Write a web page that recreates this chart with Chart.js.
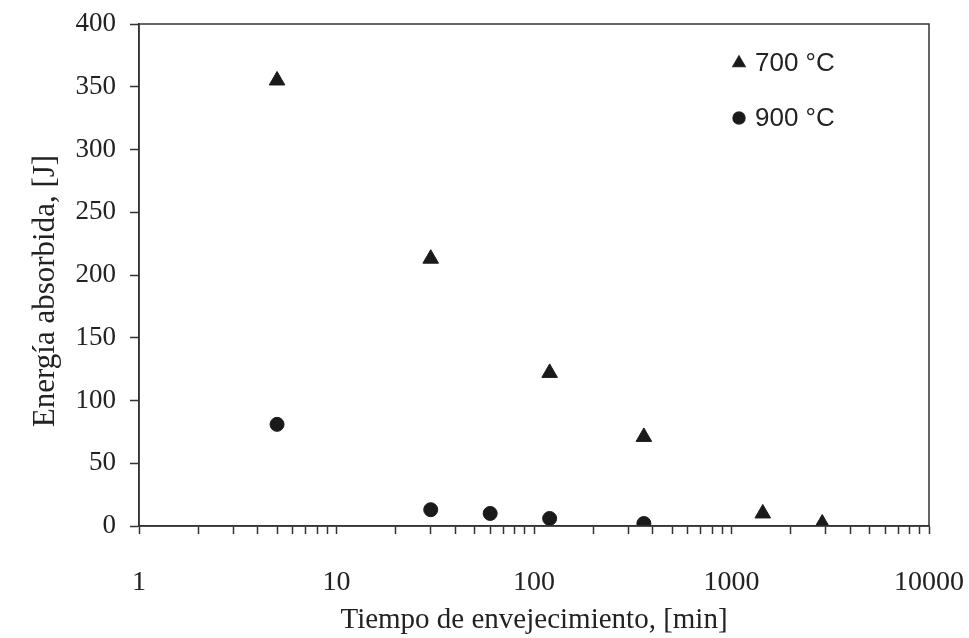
<!DOCTYPE html>
<html lang="es">
<head>
<meta charset="UTF-8">
<title>Energía absorbida vs tiempo de envejecimiento</title>
<script src="https://cdn.jsdelivr.net/npm/chart.js"></script>
<style>
    html, body { margin: 0; padding: 0; background: #fff; }
    #wrap { width: 969px; height: 638px; }
</style>
</head>
<body>
<div id="wrap"><canvas id="chart" width="969" height="638"></canvas></div>
<script>
    // Tiempo de envejecimiento [min] y energía absorbida [J]
    const time700 = [5, 30, 120, 360, 1440, 2880];
    const energy700 = [355, 213, 122, 71, 10, 2];
    const time900 = [5, 30, 60, 120, 360];
    const energy900 = [81, 13, 10, 6, 2];

    const xMajorTicks = [1, 10, 100, 1000, 10000];
    const yTicks = [0, 50, 100, 150, 200, 250, 300, 350, 400];
    const seriesLabels = ['700 °C', '900 °C'];

    const ink = '#1a1a1a';
    const axisColor = '#333';
    const serif = '"Liberation Serif", "Times New Roman", serif';
    const sans = '"Liberation Sans", Arial, sans-serif';

    function toPoints(xs, ys) {
        return xs.map((x, i) => ({ x: x, y: ys[i] }));
    }

    // all log ticks (1..9 per decade) so minor tick marks show up
    const xAllTicks = [];
    for (let d = 0; d < xMajorTicks.length - 1; d++) {
        for (let k = 1; k < 10; k++) xAllTicks.push(k * xMajorTicks[d]);
    }
    xAllTicks.push(xMajorTicks[xMajorTicks.length - 1]);

    // keep the plot box fixed: no extra room for overhanging tick labels
    function noOverhang(scale) {
        scale.paddingLeft = 0;
        scale.paddingRight = 0;
        scale.paddingTop = 0;
        scale.paddingBottom = 0;
    }

    // frame, axis titles and legend
    const decorations = {
        id: 'decorations',
        afterDraw(chart) {
            const ctx = chart.ctx;
            const a = chart.chartArea;
            ctx.save();
            ctx.strokeStyle = axisColor;
            ctx.lineWidth = 1.5;
            ctx.strokeRect(a.left, a.top, a.right - a.left, a.bottom - a.top);

            ctx.fillStyle = '#222';
            ctx.textAlign = 'center';
            ctx.textBaseline = 'middle';
            ctx.font = '29px ' + serif;
            ctx.fillText('Tiempo de envejecimiento, [min]', (a.left + a.right) / 2, 620);

            ctx.save();
            ctx.translate(46, 291);
            ctx.rotate(-Math.PI / 2);
            ctx.font = '31px ' + serif;
            ctx.fillText('Energía absorbida, [J]', 0, 0);
            ctx.restore();

            // legend
            const rows = [63, 118];
            ctx.font = '26px ' + sans;
            ctx.textAlign = 'left';
            chart.data.datasets.forEach((ds, i) => {
                Chart.helpers.drawPoint(ctx, {
                    pointStyle: ds.pointStyle,
                    radius: ds.pointStyle === 'triangle' ? 7 : 6,
                    borderWidth: 1,
                    rotation: 0
                }, 739, rows[i]);
                ctx.fillStyle = ink;
                ctx.fill();
                ctx.fillStyle = '#222';
                ctx.fillText(ds.label, 755, rows[i] + 1);
            });
            ctx.restore();
        }
    };

    new Chart(document.getElementById('chart'), {
        type: 'scatter',
        data: {
            datasets: [
                {
                    label: seriesLabels[0],
                    data: toPoints(time700, energy700),
                    pointStyle: 'triangle',
                    pointRadius: 9,
                    backgroundColor: ink,
                    borderColor: ink,
                    borderWidth: 1
                },
                {
                    label: seriesLabels[1],
                    data: toPoints(time900, energy900),
                    pointStyle: 'circle',
                    pointRadius: 7,
                    backgroundColor: ink,
                    borderColor: ink,
                    borderWidth: 1
                }
            ]
        },
        options: {
            responsive: false,
            animation: false,
            layout: { padding: { top: 24, right: 40, left: 0, bottom: 0 } },
            plugins: {
                legend: { display: false },
                tooltip: { enabled: false }
            },
            scales: {
                x: {
                    type: 'logarithmic',
                    min: 1,
                    max: 10000,
                    afterBuildTicks(scale) {
                        scale.ticks = xAllTicks.map(v => ({ value: v }));
                    },
                    afterFit(scale) {
                        scale.height = 112;
                        noOverhang(scale);
                    },
                    grid: {
                        drawOnChartArea: false,
                        drawTicks: true,
                        tickLength: 8,
                        tickColor: axisColor,
                        tickWidth: 1.5
                    },
                    border: { color: axisColor, width: 1.5 },
                    ticks: {
                        autoSkip: false,
                        maxRotation: 0,
                        padding: 32,
                        color: '#222',
                        font: { family: serif, size: 28 },
                        callback: v => xMajorTicks.includes(v) ? String(v) : ''
                    }
                },
                y: {
                    min: 0,
                    max: 400,
                    afterBuildTicks(scale) {
                        scale.ticks = yTicks.map(v => ({ value: v }));
                    },
                    afterFit(scale) {
                        scale.width = 139;
                        noOverhang(scale);
                    },
                    grid: {
                        drawOnChartArea: false,
                        drawTicks: true,
                        tickLength: 9,
                        tickColor: axisColor,
                        tickWidth: 1.5
                    },
                    border: { color: axisColor, width: 1.5 },
                    ticks: {
                        padding: 14,
                        color: '#222',
                        font: { family: serif, size: 27 }
                    }
                }
            }
        },
        plugins: [decorations]
    });
</script>
</body>
</html>
